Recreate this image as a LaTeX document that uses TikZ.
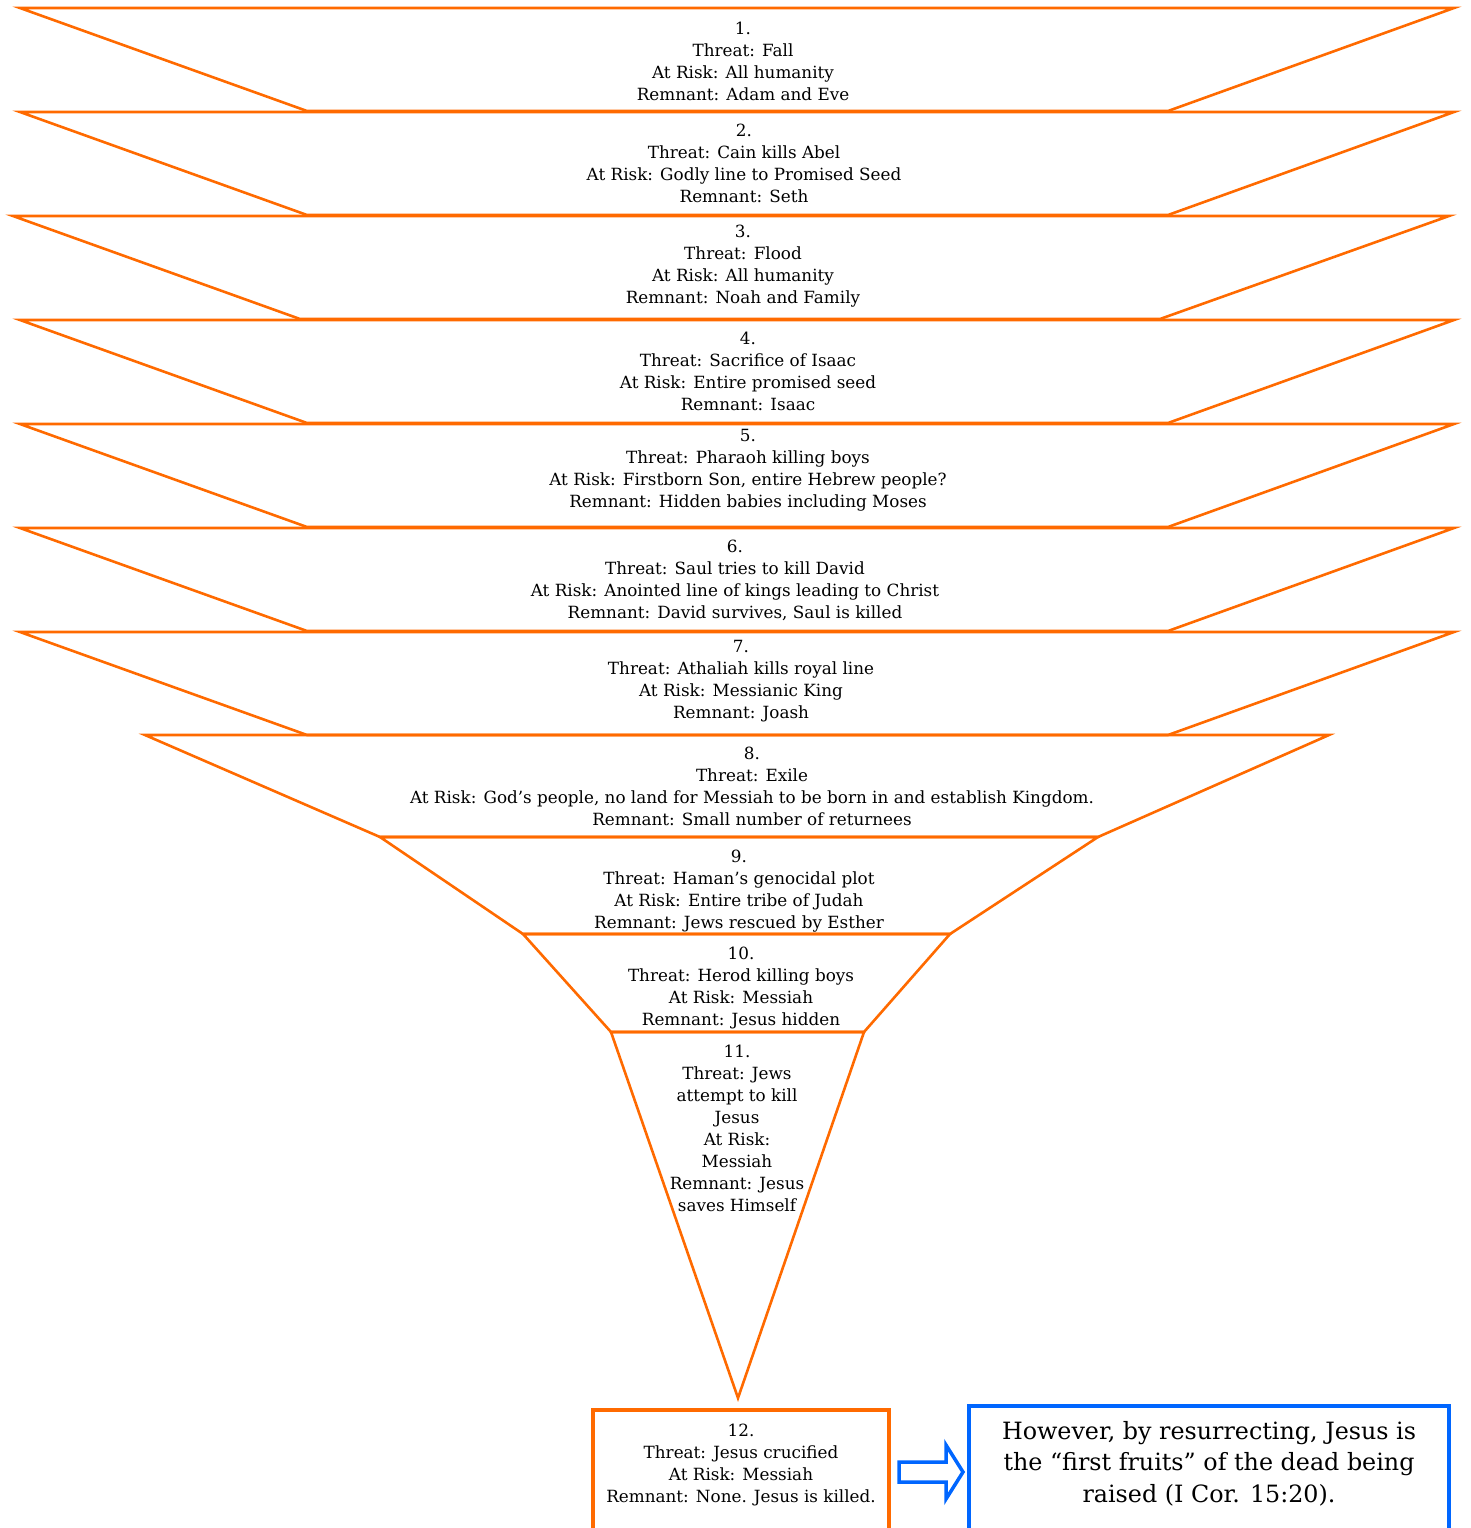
\documentclass[tikz,border=0pt]{standalone}
\usepackage{fontspec}
\setmainfont{DejaVu Serif}
\usepackage{tikz}
\definecolor{remorange}{RGB}{255,106,0}
\definecolor{remblue}{RGB}{0,102,255}

\begin{document}
\begin{tikzpicture}[x=1pt, y=-1pt,
		trap/.style={draw=remorange, line width=2.6pt},
		stage/.style={anchor=north, inner sep=0pt, align=center, font=\fontsize{16.8}{22}\selectfont},
		]
		\useasboundingbox (0, 0) rectangle (1470, 1528);
		% funnel of threats
		\draw[trap] (20, 8) -- (1454, 8) -- (1168, 111) -- (307, 111) -- cycle;
		\draw[trap] (20, 112) -- (1454, 112) -- (1168, 215) -- (307, 215) -- cycle;
		\draw[trap] (13, 216) -- (1449, 216) -- (1160, 319) -- (300, 319) -- cycle;
		\draw[trap] (20, 320) -- (1454, 320) -- (1168, 423) -- (307, 423) -- cycle;
		\draw[trap] (20, 424) -- (1454, 424) -- (1168, 527) -- (307, 527) -- cycle;
		\draw[trap] (20, 528) -- (1454, 528) -- (1168, 631) -- (307, 631) -- cycle;
		\draw[trap] (20, 632) -- (1454, 632) -- (1168, 735) -- (307, 735) -- cycle;
		\draw[trap] (145, 735) -- (1329, 735) -- (1098, 837) -- (380, 837) -- cycle;
		\draw[trap] (380, 837) -- (1098, 837) -- (950, 934) -- (523, 934) -- cycle;
		\draw[trap] (523, 934) -- (950, 934) -- (864, 1032) -- (611, 1032) -- cycle;
		\draw[trap] (611, 1032) -- (864, 1032) -- (738, 1398) -- cycle;
		% texts
		\node[stage] (s1) at (743, 22) {1.\\Threat: Fall\\At Risk: All humanity\\Remnant: Adam and Eve};
		\node[stage] (s2) at (744, 124) {2.\\Threat: Cain kills Abel\\At Risk: Godly line to Promised Seed\\Remnant: Seth};
		\node[stage] (s3) at (743, 225) {3.\\Threat: Flood\\At Risk: All humanity\\Remnant: Noah and Family};
		\node[stage] (s4) at (748, 332) {4.\\Threat: Sacrifice of Isaac\\At Risk: Entire promised seed\\Remnant: Isaac};
		\node[stage] (s5) at (748, 429) {5.\\Threat: Pharaoh killing boys\\At Risk: Firstborn Son, entire Hebrew people?\\Remnant: Hidden babies including Moses};
		\node[stage] (s6) at (735, 540) {6.\\Threat: Saul tries to kill David\\At Risk: Anointed line of kings leading to Christ\\Remnant: David survives, Saul is killed};
		\node[stage] (s7) at (741, 640) {7.\\Threat: Athaliah kills royal line\\At Risk: Messianic King\\Remnant: Joash};
		\node[stage] (s8) at (752, 747) {8.\\Threat: Exile\\At Risk: God’s people, no land for Messiah to be born in and establish Kingdom.\\Remnant: Small number of returnees};
		\node[stage] (s9) at (739, 850) {9.\\Threat: Haman’s genocidal plot\\At Risk: Entire tribe of Judah\\Remnant: Jews rescued by Esther};
		\node[stage] (s10) at (741, 947) {10.\\Threat: Herod killing boys\\At Risk: Messiah\\Remnant: Jesus hidden};
		\node[stage] (s11) at (737, 1045) {11.\\Threat: Jews\\attempt to kill\\Jesus\\At Risk:\\Messiah\\Remnant: Jesus\\saves Himself};
		% last stage and outcome
		\draw[draw=remorange, line width=4.5pt] (593, 1545) -- (593, 1410) -- (889, 1410) -- (889, 1545);
		\node[stage] (s12) at (741, 1424) {12.\\Threat: Jesus crucified\\At Risk: Messiah\\Remnant: None. Jesus is killed.};
		\draw[draw=remblue, line width=4pt] (969, 1545) -- (969, 1406) -- (1449, 1406) -- (1449, 1545);
		\node[stage, font=\fontsize{23.8}{31.5}\selectfont] (res) at (1209, 1421) {However, by resurrecting, Jesus is\\the “first fruits” of the dead being\\raised (I Cor. 15:20).};
		\draw[draw=remblue, line width=3.5pt, line join=miter] (899, 1462) -- (946, 1462) -- (946, 1445) -- (963, 1472) -- (946, 1499) -- (946, 1482) -- (899, 1482) -- cycle;
		\end{tikzpicture}
\end{document}
